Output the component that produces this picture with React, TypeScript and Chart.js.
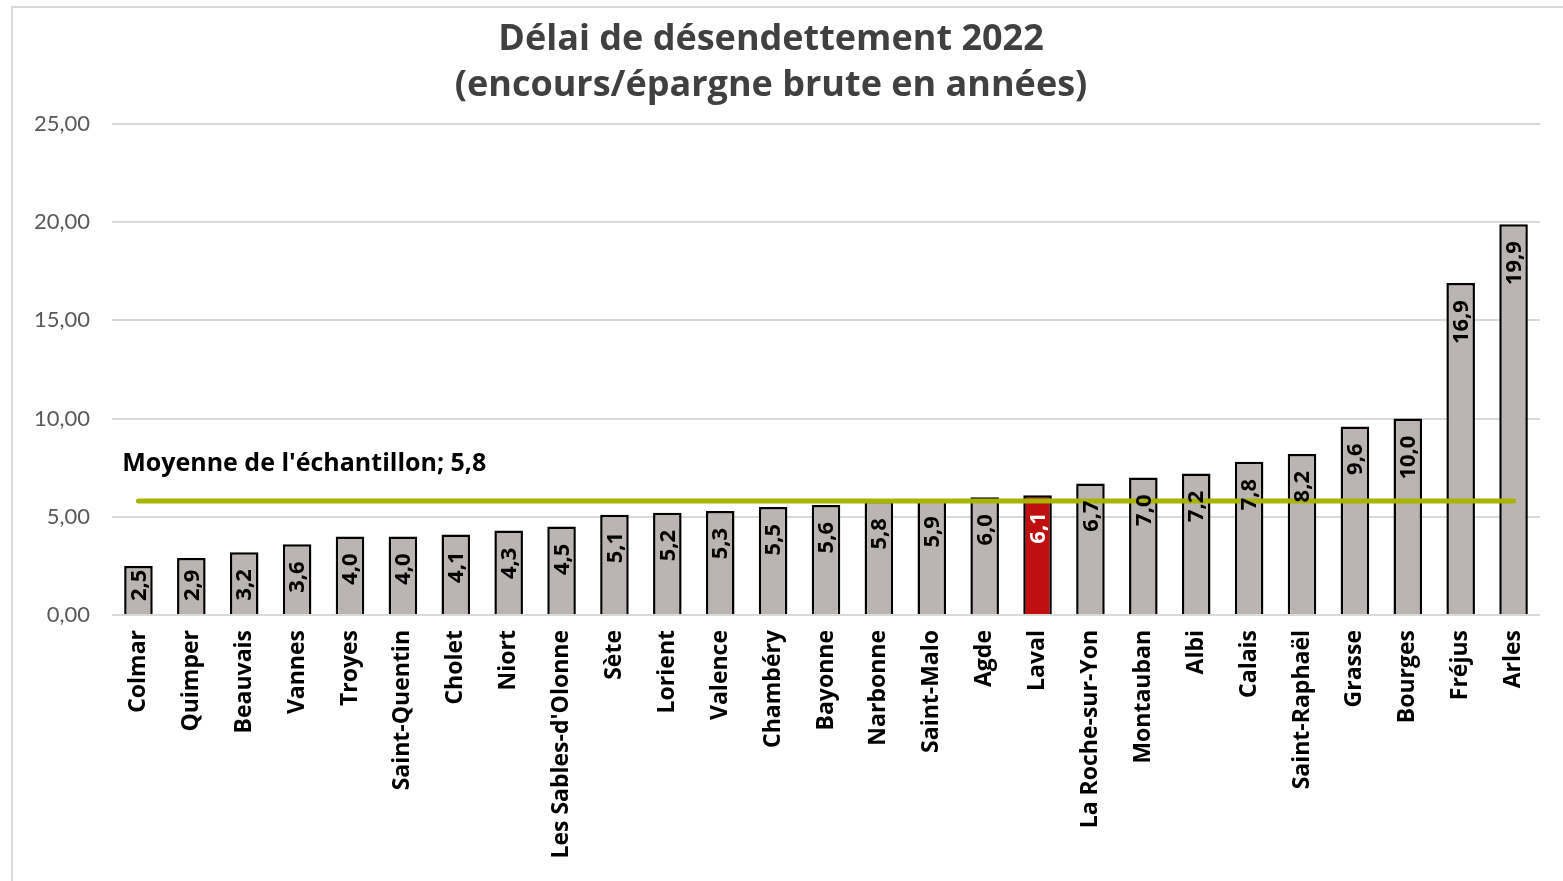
import { useEffect, useRef } from "react";
import { Chart, registerables } from "chart.js";
Chart.register(...registerables);

const titleLines = ["Délai de désendettement 2022", "(encours/épargne brute en années)"];
const categories = [
  "Colmar", "Quimper", "Beauvais", "Vannes", "Troyes", "Saint-Quentin", "Cholet", "Niort",
  "Les Sables-d'Olonne", "Sète", "Lorient", "Valence", "Chambéry", "Bayonne", "Narbonne",
  "Saint-Malo", "Agde", "Laval", "La Roche-sur-Yon", "Montauban", "Albi", "Calais",
  "Saint-Raphaël", "Grasse", "Bourges", "Fréjus", "Arles",
];
const values = [
  2.5, 2.9, 3.2, 3.6, 4.0, 4.0, 4.1, 4.3, 4.5, 5.1, 5.2, 5.3, 5.5, 5.6, 5.8, 5.9, 6.0, 6.1,
  6.7, 7.0, 7.2, 7.8, 8.2, 9.6, 10.0, 16.9, 19.9,
];
const highlightCity = "Laval";
const average = 5.8;
const averageLabel = "Moyenne de l'échantillon; 5,8";
const yTicks = [0, 5, 10, 15, 20, 25];

const fmt = (v: number, d: number) => v.toFixed(d).replace(".", ",");

const BAR_GRAY = "#bab5b2";
const RED = "#c00f0f";
const GREEN = "#a8b400";
const BOLD_FAMILY = "'Open Sans'";

export default function App() {
  const ref = useRef<HTMLCanvasElement | null>(null);
  useEffect(() => {
    const canvas = ref.current!;
    const hi = categories.indexOf(highlightCity);

    const titlePlugin = {
      id: "customTitle",
      afterDraw(chart: any) {
        const ctx = chart.ctx;
        ctx.save();
        ctx.font = `bold 36px ${BOLD_FAMILY}`;
        ctx.fillStyle = "#404040";
        ctx.textAlign = "center";
        ctx.textBaseline = "middle";
        ctx.fillText(titleLines[0], 758, 32);
        ctx.fillText(titleLines[1], 758, 78);
        ctx.restore();
      },
    };

    const labelPlugin = {
      id: "barLabels",
      afterDatasetsDraw(chart: any) {
        const meta = chart.getDatasetMeta(0);
        const ctx = chart.ctx;
        const base = chart.scales.y.getPixelForValue(0);
        ctx.save();
        ctx.font = `bold 22px ${BOLD_FAMILY}`;
        meta.data.forEach((bar: any, i: number) => {
          const text = fmt(values[i], 1);
          const w = ctx.measureText(text).width;
          const top = Math.min(bar.y + 17, base - 14 - w);
          ctx.save();
          ctx.translate(bar.x + 1, top);
          ctx.rotate(-Math.PI / 2);
          ctx.textAlign = "right";
          ctx.textBaseline = "middle";
          ctx.fillStyle = i === hi ? "#ffffff" : "#000000";
          ctx.fillText(text, 0, 0);
          ctx.restore();
        });
        const first = meta.data[0];
        const y = chart.scales.y.getPixelForValue(average);
        ctx.font = `bold 25px ${BOLD_FAMILY}`;
        ctx.fillStyle = "#000000";
        ctx.textAlign = "left";
        ctx.textBaseline = "middle";
        ctx.fillText(averageLabel, first.x - first.width / 2 - 2, y - 37);
        ctx.restore();
      },
    };

    const chart = new Chart(canvas, {
      type: "bar",
      data: {
        labels: categories,
        datasets: [
          {
            type: "bar",
            data: values,
            backgroundColor: values.map((_, i) => (i === hi ? RED : BAR_GRAY)),
            borderColor: "#000000",
            borderWidth: 2.5,
            categoryPercentage: 1,
            barPercentage: 0.54,
            order: 1,
          } as any,
          {
            type: "line",
            data: categories.map(() => average),
            borderColor: GREEN,
            borderWidth: 5,
            borderCapStyle: "round",
            pointRadius: 0,
            fill: false,
            order: 0,
          } as any,
        ],
      },
      options: {
        animation: false,
        responsive: false,
        devicePixelRatio: 1,
        layout: { padding: { left: 0, right: 23, top: 116, bottom: 0 } },
        plugins: {
          legend: { display: false },
          tooltip: { enabled: false },
          title: { display: false },
        },
        scales: {
          x: {
            grid: { display: false, drawTicks: false },
            border: { display: false },
            ticks: {
              autoSkip: false,
              minRotation: 90,
              maxRotation: 90,
              padding: 15,
              color: "#000000",
              font: { family: "Open Sans", size: 23, weight: "bold" },
            },
            afterFit(scale: any) {
              scale.height = 266;
            },
          },
          y: {
            min: 0,
            max: 25,
            afterBuildTicks(scale: any) {
              scale.ticks = yTicks.map((v) => ({ value: v }));
            },
            grid: { color: "#d9d9d9", lineWidth: 2, drawTicks: false },
            border: { display: false },
            ticks: {
              padding: 22,
              color: "#595959",
              font: { family: "Lato", size: 22 },
              callback: (v: any) => fmt(Number(v), 2),
            },
            afterFit(scale: any) {
              scale.width = 99;
            },
          },
        },
      },
      plugins: [titlePlugin, labelPlugin],
    });
    return () => chart.destroy();
  }, []);

  return (
    <div
      style={{
        position: "fixed",
        left: 11,
        top: 6,
        width: 1600,
        height: 900,
        border: "2px solid #d9d9d9",
        background: "#ffffff",
      }}
    >
      <canvas ref={ref} width={1550} height={873} style={{ display: "block" }} />
    </div>
  );
}
